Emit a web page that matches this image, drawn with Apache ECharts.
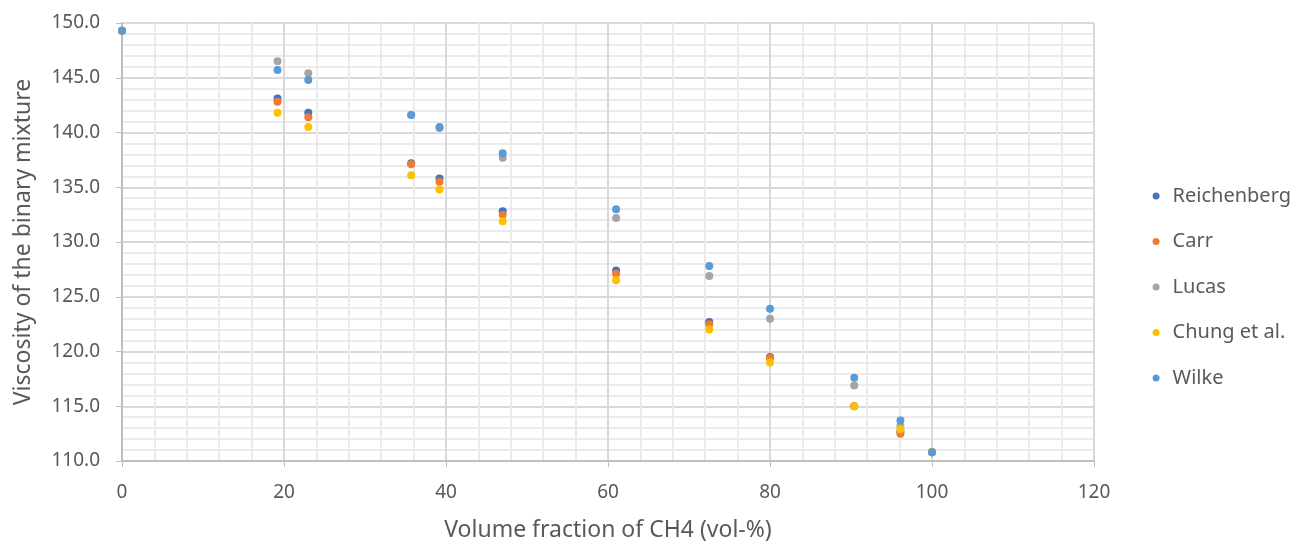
<!DOCTYPE html>
<html>
<head>
<meta charset="utf-8">
<script src="https://cdn.jsdelivr.net/npm/echarts@6/dist/echarts.min.js"></script>
<style>html,body{margin:0;padding:0;background:#fff}#c{width:1298px;height:542px}</style>
</head>
<body>
<div id="c"></div>
<script>
const xValues = [0, 19.2, 23.0, 35.7, 39.2, 47.0, 61.0, 72.5, 80.0, 90.4, 96.1, 100];
const reichenberg = [149.3, 143.1, 141.8, 137.2, 135.8, 132.8, 127.4, 122.7, 119.5, 115.0, 112.7, 110.8];
const carr        = [149.3, 142.8, 141.4, 137.1, 135.5, 132.5, 127.1, 122.5, 119.4, 115.0, 112.5, 110.8];
const lucas       = [149.3, 146.5, 145.4, 141.6, 140.4, 137.7, 132.2, 126.9, 123.0, 116.9, 113.2, 110.8];
const chung       = [149.3, 141.8, 140.5, 136.1, 134.8, 131.9, 126.5, 122.0, 119.0, 115.0, 112.9, 110.8];
const wilke       = [149.3, 145.7, 144.8, 141.6, 140.5, 138.1, 133.0, 127.8, 123.9, 117.6, 113.7, 110.8];
const seriesNames = ['Reichenberg', 'Carr', 'Lucas', 'Chung et al.', 'Wilke'];
const seriesColors = ['#4472C4', '#ED7D31', '#A5A5A5', '#FFC000', '#5B9BD5'];
const xTitle = 'Volume fraction of CH4 (vol-%)';
const yTitle = 'Viscosity of the binary mixture';

const allData = [reichenberg, carr, lucas, chung, wilke];
const chart = echarts.init(document.getElementById('c'));
const font = '"Noto Sans", "Open Sans", sans-serif';
chart.setOption({
  animation: false,
  grid: {left: 122, right: 204, top: 23, bottom: 81, containLabel: false, outerBoundsMode: 'none'},
  legend: {
    orient: 'vertical', right: 2, top: 181, itemGap: 25.5,
    icon: 'circle', itemWidth: 7, itemHeight: 7,
    textStyle: {color: '#595959', fontSize: 20, fontFamily: font, padding: [0,0,0,8]},
    data: seriesNames
  },
  xAxis: {
    type: 'value', min: 0, max: 120, interval: 20,
    name: xTitle, nameLocation: 'middle', nameGap: 58,
    nameTextStyle: {color: '#595959', fontSize: 23, fontFamily: font},
    axisLine: {show: true, lineStyle: {color: '#BFBFBF', width: 2}},
    axisTick: {show: true, length: 6, lineStyle: {color: '#BFBFBF', width: 1}},
    axisLabel: {color: '#595959', fontSize: 19, fontFamily: font, margin: 22},
    splitLine: {show: true, lineStyle: {color: '#D9D9D9', width: 2}},
    minorTick: {show: false, splitNumber: 5},
    minorSplitLine: {show: true, lineStyle: {color: '#EBEBEB', width: 2}}
  },
  yAxis: {
    type: 'value', min: 110, max: 150, interval: 5,
    name: yTitle, nameLocation: 'middle', nameGap: 87,
    nameTextStyle: {color: '#595959', fontSize: 23, fontFamily: font},
    axisLine: {show: true, lineStyle: {color: '#BFBFBF', width: 2}},
    axisTick: {show: true, length: 6, lineStyle: {color: '#BFBFBF', width: 1}},
    axisLabel: {color: '#595959', fontSize: 19, fontFamily: font, margin: 22,
      formatter: v => v.toFixed(1)},
    splitLine: {show: true, lineStyle: {color: '#D9D9D9', width: 2}},
    minorTick: {show: false, splitNumber: 5},
    minorSplitLine: {show: true, lineStyle: {color: '#EBEBEB', width: 2}}
  },
  series: allData.map((arr, i) => ({
    name: seriesNames[i], type: 'scatter', symbol: 'circle', symbolSize: 8,
    itemStyle: {color: seriesColors[i], opacity: 1},
    data: xValues.map((x, j) => [x, arr[j]]),
    z: 2 + i
  }))
});
</script>
</body>
</html>
